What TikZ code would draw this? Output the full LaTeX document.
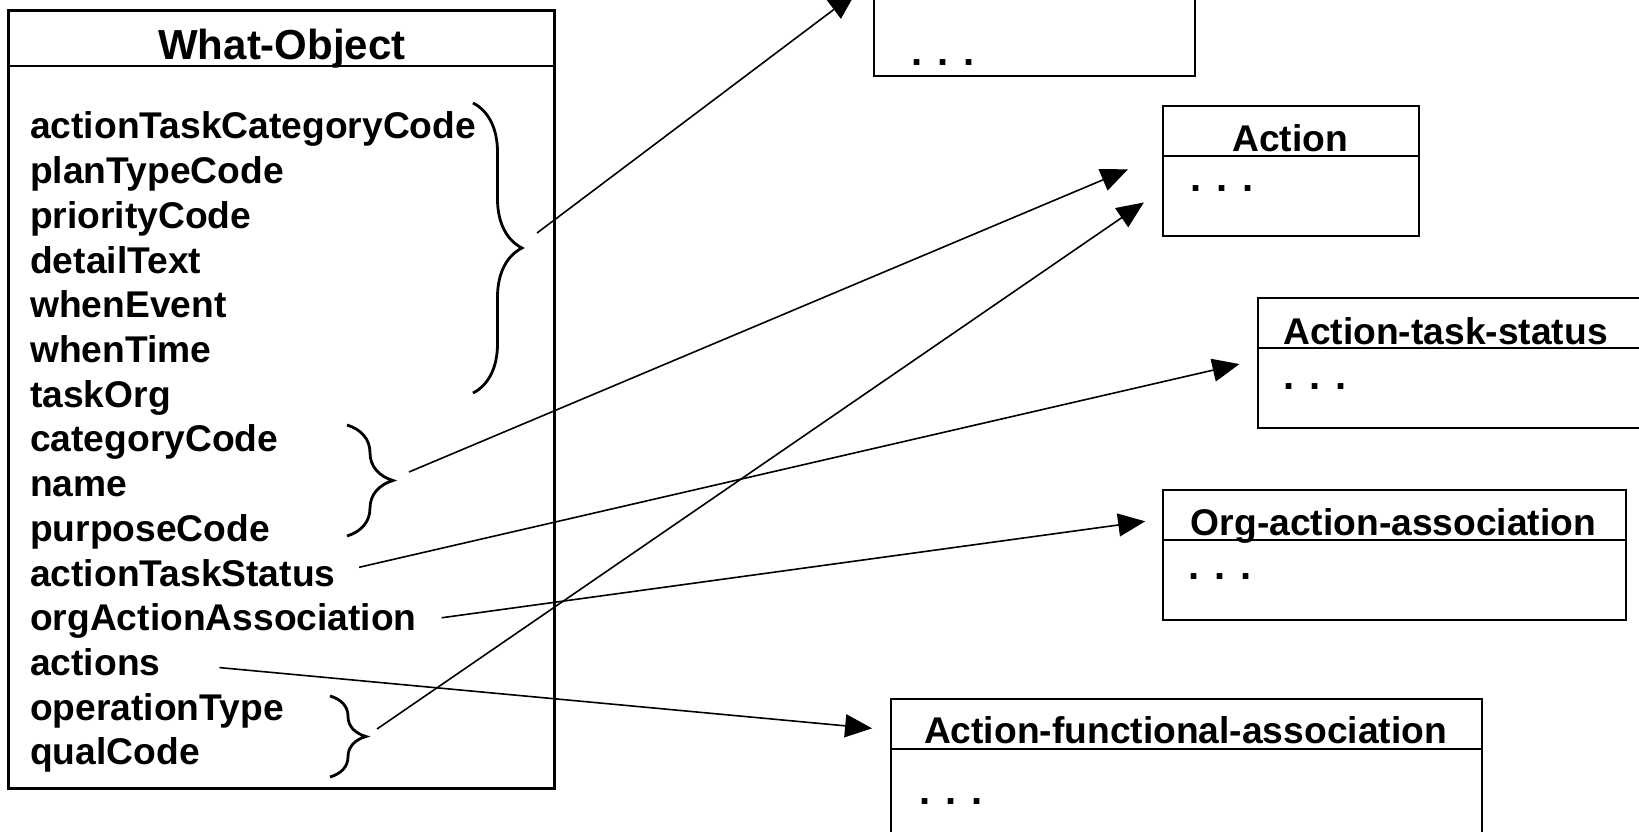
\documentclass[tikz,border=0pt]{standalone}
\usepackage{fontspec}
\setmainfont{Liberation Sans}
\usetikzlibrary{arrows.meta,decorations.pathreplacing}

\tikzset{
  box/.style={draw, line width=2pt, anchor=north west, inner sep=0pt},
  cls/.style={box, path picture={
      \draw[line width=2pt] ([yshift=-#1]path picture bounding box.north west)
        -- ([yshift=-#1]path picture bounding box.north east);}},
  cls/.default=50pt,
  hd/.style={font=\fontsize{37.2pt}{44pt}\selectfont\bfseries, inner sep=0pt, anchor=base},
  attr/.style={font=\fontsize{37.2pt}{44pt}\selectfont\bfseries, inner sep=0pt, anchor=base west},
  dots/.style={attr, font=\fontsize{40pt}{44pt}\selectfont\bfseries},
  brc/.style={decorate, decoration={brace, amplitude=#1}, line width=2.8pt},
  arr/.style={-{Triangle[length=27pt,width=23pt]}, line width=1.6pt}
}

\begin{document}
\begin{tikzpicture}[x=1pt,y=-1pt]
\useasboundingbox (0,0) rectangle (1639,832);
\clip (0,0) rectangle (1639,832);

% the object and its attributes
\node[cls=56pt, line width=3pt, minimum width=546pt, minimum height=778pt] (what) at (7,9) {};
\node[hd, font=\fontsize{42pt}{48pt}\selectfont\bfseries] (whatT) at (282,60) {What-Object};

\node[attr] (aTaskCat) at (30,139) {actionTaskCategoryCode};
\node[attr] (aPlanType) at (30,183.7) {planTypeCode};
\node[attr] (aPriority) at (30,228.4) {priorityCode};
\node[attr] (aDetail) at (30,273.1) {detailText};
\node[attr] (aWhenEvent) at (30,317.8) {whenEvent};
\node[attr] (aWhenTime) at (30,362.5) {whenTime};
\node[attr] (aTaskOrg) at (30,407.2) {taskOrg};
\node[attr] (aCategory) at (30,451.9) {categoryCode};
\node[attr] (aName) at (30,496.6) {name};
\node[attr] (aPurpose) at (30,541.3) {purposeCode};
\node[attr] (aTaskStatus) at (30,586) {actionTaskStatus};
\node[attr] (aOrgAssoc) at (30,630.7) {orgActionAssociation};
\node[attr] (aActions) at (30,675.4) {actions};
\node[attr] (aOpType) at (30,720.1) {operationType};
\node[attr] (aQual) at (30,764.8) {qualCode};

% braces
\draw[brc=49pt] (473,103) -- (473,393);
\draw[brc=46pt] (347,425) -- (347,536);
\draw[brc=36pt] (330,696) -- (330,777);
\coordinate (g1) at (537,233);
\coordinate (g2) at (409,472);
\coordinate (g3) at (377,729);

% target classes
\node[box, minimum width=321pt, minimum height=135pt] (top) at (873,-60) {};
\node[dots] (topD) at (911.5,66) {. . .};

\node[cls, minimum width=256pt, minimum height=130pt] (act) at (1162,105) {};
\node[hd] (actT) at (1290,152) {Action};
\node[dots] (actD) at (1190.5,192) {. . .};

\node[cls, minimum width=440pt, minimum height=130pt] (ats) at (1257,297) {};
\node[hd, anchor=base west] (atsT) at (1283,344) {Action-task-status};
\node[dots] (atsD) at (1283.6,389) {. . .};

\node[cls, minimum width=463pt, minimum height=130pt] (oaa) at (1162,489) {};
\node[hd] (oaaT) at (1393.5,535) {Org-action-association};
\node[dots] (oaaD) at (1188.6,579) {. . .};

\node[cls, minimum width=591pt, minimum height=160pt] (afa) at (890,698) {};
\node[hd] (afaT) at (1185.5,743) {Action-functional-association};
\node[dots] (afaD) at (919.6,804) {. . .};

% links
\draw[arr, shorten >=22pt] (g1) -- ([yshift=-40pt]top.north west);
\draw[arr, shorten >=37pt] (g2) -- ([yshift=-50pt]act.north west);
\draw[arr, shorten >=22pt] (g3) -- ([yshift=-85pt]act.north west);
\draw[arr, shorten <=24pt, shorten >=18pt] (aTaskStatus.east) -- ([yshift=-63pt]ats.north west);
\draw[arr, shorten <=25pt, shorten >=17pt] (aOrgAssoc.east) -- ([yshift=-30pt]oaa.north west);
\draw[arr, shorten <=59pt, shorten >=18pt] (aActions.east) -- ([yshift=-32pt]afa.north west);
\end{tikzpicture}
\end{document}
